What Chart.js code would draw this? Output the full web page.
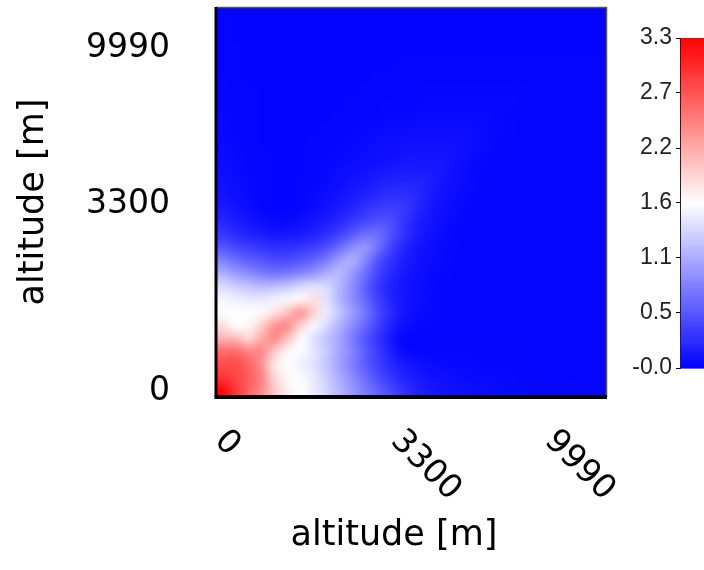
<!DOCTYPE html>
<html>
<head>
<meta charset="utf-8">
<script src="https://cdn.jsdelivr.net/npm/chart.js@4.4.1/dist/chart.umd.min.js"></script>
<style>
  html, body { margin: 0; padding: 0; background: #fff; overflow: hidden; }
  #wrap { position: relative; width: 704px; height: 570px; }
  #cov-chart { position: absolute; left: 0; top: 0; }
  #cov-scale { position: absolute; left: 600px; top: 0; }
</style>
</head>
<body>
<div id="wrap">
  <canvas id="cov-chart" width="704" height="570"></canvas>
  <canvas id="cov-scale" width="120" height="400"></canvas>
</div>
<script>
/* ============================================================
   Altitude x altitude matrix (heatmap + colour scale)
   ============================================================ */

// one row per level, lowest altitude first
const covRows = [
  [3.25,2.95,2.65,2.40,2.00,1.75,1.65,1.52,1.36,1.16,0.97,0.78,0.61,0.45,0.30,0.21,0.15,0.11,0.09,0.08,0.07,0.06,0.05,0.05,0.04,0.04,0.04,0.04,0.03,0.03],
  [2.95,2.85,2.70,2.45,1.90,1.70,1.62,1.50,1.32,1.10,0.90,0.68,0.48,0.32,0.22,0.15,0.11,0.09,0.07,0.06,0.06,0.05,0.05,0.04,0.04,0.04,0.04,0.03,0.03,0.03],
  [2.80,2.80,2.65,2.35,1.80,1.65,1.55,1.45,1.26,1.03,0.80,0.58,0.40,0.25,0.15,0.10,0.07,0.06,0.05,0.05,0.04,0.04,0.04,0.04,0.04,0.03,0.03,0.03,0.03,0.03],
  [2.60,2.60,2.45,2.40,2.00,1.70,1.62,1.48,1.29,1.06,0.84,0.58,0.36,0.18,0.06,0.04,0.04,0.04,0.04,0.04,0.04,0.04,0.04,0.04,0.03,0.03,0.03,0.03,0.03,0.03],
  [2.15,2.10,1.90,2.20,2.40,2.05,1.65,1.45,1.25,1.05,0.78,0.52,0.32,0.13,0.03,0.03,0.04,0.04,0.04,0.04,0.04,0.04,0.04,0.04,0.03,0.03,0.03,0.03,0.03,0.03],
  [1.85,1.65,1.70,1.95,2.35,2.40,1.95,1.60,1.40,1.13,0.90,0.65,0.40,0.20,0.08,0.05,0.04,0.03,0.03,0.03,0.03,0.03,0.03,0.03,0.03,0.03,0.03,0.03,0.03,0.03],
  [1.63,1.63,1.65,1.68,1.82,2.05,2.35,1.95,1.52,1.26,1.00,0.74,0.45,0.25,0.12,0.07,0.05,0.04,0.03,0.03,0.03,0.03,0.03,0.03,0.03,0.03,0.03,0.03,0.03,0.03],
  [1.58,1.55,1.50,1.50,1.55,1.60,1.70,1.85,1.45,1.16,0.90,0.65,0.39,0.22,0.13,0.08,0.06,0.04,0.03,0.03,0.03,0.03,0.03,0.03,0.03,0.03,0.03,0.03,0.03,0.03],
  [1.42,1.32,1.26,1.20,1.23,1.29,1.39,1.45,1.40,1.16,0.90,0.60,0.35,0.20,0.12,0.08,0.05,0.04,0.03,0.03,0.03,0.03,0.03,0.03,0.03,0.03,0.03,0.03,0.03,0.03],
  [1.13,1.00,0.90,0.80,0.74,0.78,0.87,0.97,1.13,1.20,0.97,0.70,0.42,0.25,0.15,0.09,0.06,0.04,0.03,0.03,0.03,0.03,0.03,0.03,0.03,0.03,0.03,0.03,0.03,0.03],
  [0.84,0.71,0.61,0.55,0.48,0.48,0.55,0.65,0.80,1.03,1.13,0.84,0.50,0.30,0.18,0.11,0.07,0.05,0.04,0.03,0.03,0.03,0.03,0.03,0.03,0.03,0.03,0.03,0.03,0.03],
  [0.55,0.45,0.39,0.34,0.30,0.30,0.34,0.40,0.50,0.70,0.90,0.97,0.70,0.40,0.22,0.13,0.08,0.05,0.04,0.03,0.03,0.03,0.03,0.03,0.03,0.03,0.03,0.03,0.03,0.03],
  [0.36,0.28,0.22,0.18,0.14,0.14,0.17,0.22,0.30,0.42,0.58,0.72,0.70,0.50,0.30,0.17,0.10,0.06,0.04,0.03,0.03,0.03,0.03,0.03,0.03,0.03,0.03,0.03,0.03,0.03],
  [0.25,0.18,0.13,0.09,0.06,0.06,0.09,0.13,0.18,0.26,0.36,0.46,0.52,0.48,0.32,0.19,0.12,0.07,0.05,0.03,0.03,0.03,0.03,0.03,0.03,0.03,0.03,0.03,0.03,0.03],
  [0.17,0.12,0.08,0.04,0.02,0.02,0.04,0.07,0.11,0.17,0.24,0.32,0.38,0.40,0.36,0.24,0.14,0.09,0.06,0.04,0.03,0.03,0.03,0.03,0.03,0.03,0.03,0.03,0.03,0.03],
  [0.13,0.09,0.06,0.03,0.02,0.02,0.03,0.05,0.08,0.12,0.17,0.22,0.27,0.30,0.30,0.25,0.16,0.10,0.07,0.05,0.03,0.03,0.03,0.03,0.03,0.03,0.03,0.03,0.03,0.03],
  [0.10,0.07,0.05,0.03,0.02,0.02,0.03,0.04,0.06,0.09,0.12,0.15,0.19,0.22,0.23,0.22,0.18,0.12,0.08,0.05,0.04,0.03,0.03,0.03,0.03,0.03,0.03,0.03,0.03,0.03],
  [0.08,0.06,0.04,0.03,0.02,0.02,0.02,0.03,0.05,0.07,0.09,0.11,0.13,0.15,0.17,0.17,0.16,0.13,0.09,0.06,0.04,0.03,0.03,0.03,0.03,0.03,0.03,0.03,0.03,0.03],
  [0.07,0.05,0.04,0.03,0.02,0.02,0.02,0.03,0.04,0.05,0.06,0.08,0.09,0.11,0.12,0.13,0.13,0.12,0.10,0.07,0.05,0.04,0.03,0.03,0.03,0.03,0.03,0.03,0.03,0.03],
  [0.06,0.05,0.03,0.02,0.02,0.02,0.02,0.03,0.03,0.04,0.05,0.06,0.08,0.09,0.10,0.11,0.11,0.11,0.10,0.08,0.06,0.04,0.03,0.03,0.03,0.03,0.03,0.03,0.03,0.03],
  [0.05,0.04,0.03,0.02,0.02,0.02,0.02,0.02,0.03,0.03,0.04,0.05,0.06,0.07,0.07,0.08,0.08,0.08,0.08,0.08,0.06,0.05,0.04,0.03,0.03,0.03,0.03,0.03,0.03,0.03],
  [0.05,0.04,0.03,0.02,0.02,0.02,0.02,0.02,0.02,0.03,0.03,0.04,0.04,0.05,0.05,0.06,0.06,0.06,0.06,0.06,0.06,0.05,0.04,0.03,0.03,0.03,0.03,0.03,0.03,0.03],
  [0.04,0.04,0.03,0.02,0.02,0.02,0.02,0.02,0.02,0.02,0.03,0.03,0.03,0.04,0.04,0.04,0.05,0.05,0.05,0.05,0.05,0.05,0.05,0.04,0.03,0.03,0.03,0.03,0.03,0.03],
  [0.04,0.03,0.03,0.02,0.02,0.02,0.02,0.02,0.02,0.02,0.02,0.03,0.03,0.03,0.03,0.04,0.04,0.04,0.04,0.04,0.04,0.04,0.04,0.04,0.03,0.03,0.03,0.03,0.03,0.03],
  [0.04,0.03,0.02,0.02,0.02,0.02,0.02,0.02,0.02,0.02,0.02,0.02,0.03,0.03,0.03,0.03,0.03,0.03,0.03,0.03,0.03,0.03,0.03,0.03,0.03,0.03,0.03,0.03,0.03,0.03],
  [0.03,0.03,0.02,0.02,0.02,0.02,0.02,0.02,0.02,0.02,0.02,0.02,0.02,0.02,0.03,0.03,0.03,0.03,0.03,0.03,0.03,0.03,0.03,0.03,0.03,0.03,0.03,0.03,0.03,0.03],
  [0.03,0.03,0.02,0.02,0.02,0.02,0.02,0.02,0.02,0.02,0.02,0.02,0.02,0.02,0.02,0.02,0.02,0.02,0.02,0.02,0.02,0.02,0.02,0.02,0.02,0.02,0.02,0.02,0.02,0.02],
  [0.03,0.02,0.02,0.02,0.02,0.02,0.02,0.02,0.02,0.02,0.02,0.02,0.02,0.02,0.02,0.02,0.02,0.02,0.02,0.02,0.02,0.02,0.02,0.02,0.02,0.02,0.02,0.02,0.02,0.02],
  [0.03,0.02,0.02,0.02,0.02,0.02,0.02,0.02,0.02,0.02,0.02,0.02,0.02,0.02,0.02,0.02,0.02,0.02,0.02,0.02,0.02,0.02,0.02,0.02,0.02,0.02,0.02,0.02,0.02,0.02],
  [0.03,0.02,0.02,0.02,0.02,0.02,0.02,0.02,0.02,0.02,0.02,0.02,0.02,0.02,0.02,0.02,0.02,0.02,0.02,0.02,0.02,0.02,0.02,0.02,0.02,0.02,0.02,0.02,0.02,0.02],
];

// tick labels and where they sit, in level units
const tickLabels = ['0', '3300', '9990'];
const xTickPos = [0.28, 13.8, 25.6];
const yTickPos = [0.4, 14.8, 26.8];

// colour scale
const cbTickVals = [-0.001, 0.548, 1.097, 1.645, 2.193, 2.742, 3.29];
const cbTickLabels = ['-0.0', '0.5', '1.1', '1.6', '2.2', '2.7', '3.3'];

const AXIS_TITLE = 'altitude [m]';
const FONT = '"DejaVu Sans", sans-serif';

const nLevels = covRows.length;
const cbMin = cbTickVals[0];
const cbMax = cbTickVals[cbTickVals.length - 1];

/* ── blue / white / red ── */
function colorFor(v) {
  const mid = (cbMin + cbMax) / 2;
  const clamp = t => Math.max(0, Math.min(1, t));
  if (v <= mid) {
    const c = Math.round(255 * clamp((v - cbMin) / (mid - cbMin)));
    return [c, c, 255];
  }
  const c = Math.round(255 * (1 - clamp((v - mid) / (cbMax - mid))));
  return [255, c, c];
}
const rgb = c => `rgb(${c[0]},${c[1]},${c[2]})`;

/* ── heatmap: one pixel per cell, smoothed up to the plot area ── */
const heatmapPlugin = {
  id: 'heatmap',
  beforeDraw(chart) {
    const { ctx, scales: { x, y } } = chart;
    const cells = chart.data.datasets[0].data;
    const off = document.createElement('canvas');
    off.width = nLevels;
    off.height = nLevels;
    const octx = off.getContext('2d');
    const img = octx.createImageData(nLevels, nLevels);
    cells.forEach(p => {
      const i = Math.floor(p.x), j = Math.floor(p.y);
      const k = ((nLevels - 1 - j) * nLevels + i) * 4;
      const c = colorFor(p.v);
      img.data[k] = c[0];
      img.data[k + 1] = c[1];
      img.data[k + 2] = c[2];
      img.data[k + 3] = 255;
    });
    octx.putImageData(img, 0, 0);

    const left = x.getPixelForValue(0), right = x.getPixelForValue(nLevels);
    const top = y.getPixelForValue(nLevels), bottom = y.getPixelForValue(0);
    ctx.save();
    ctx.imageSmoothingEnabled = true;
    ctx.imageSmoothingQuality = 'high';
    ctx.drawImage(off, left, top, right - left, bottom - top);
    ctx.restore();
  },
  afterDraw(chart) {
    const { ctx, chartArea: a, scales: { x } } = chart;
    ctx.save();
    // frame: thin top/right, heavy left/bottom
    ctx.strokeStyle = '#555';
    ctx.lineWidth = 1.5;
    ctx.beginPath();
    ctx.moveTo(a.left, a.top + 0.5);
    ctx.lineTo(a.right - 0.5, a.top + 0.5);
    ctx.lineTo(a.right - 0.5, a.bottom);
    ctx.stroke();
    ctx.strokeStyle = '#000';
    ctx.lineWidth = 3;
    ctx.beginPath();
    ctx.moveTo(a.left, a.top);
    ctx.lineTo(a.left, a.bottom);
    ctx.stroke();
    ctx.lineWidth = 4;
    ctx.beginPath();
    ctx.moveTo(a.left - 1.5, a.bottom);
    ctx.lineTo(a.right, a.bottom);
    ctx.stroke();

    // x tick labels, turned clockwise
    ctx.fillStyle = '#000';
    ctx.font = `33px ${FONT}`;
    ctx.textAlign = 'left';
    ctx.textBaseline = 'middle';
    tickLabels.forEach((label, k) => {
      ctx.save();
      ctx.translate(x.getPixelForValue(xTickPos[k]), a.bottom + 39);
      ctx.rotate(Math.PI / 4);
      ctx.fillText(label, 0, 0);
      ctx.restore();
    });

    // x title
    ctx.font = `35px ${FONT}`;
    ctx.textAlign = 'center';
    ctx.fillText(AXIS_TITLE, a.left + 178, a.bottom + 139);
    ctx.restore();
  }
};

/* ── colour bar strip ── */
const colorBarPlugin = {
  id: 'colorBar',
  beforeDraw(chart) {
    const { ctx, chartArea: a, scales: { y } } = chart;
    const steps = 160;
    for (let k = 0; k < steps; k++) {
      const v0 = cbMin + (cbMax - cbMin) * k / steps;
      const v1 = cbMin + (cbMax - cbMin) * (k + 1) / steps;
      const top = y.getPixelForValue(v1);
      const bottom = y.getPixelForValue(v0);
      ctx.fillStyle = rgb(colorFor((v0 + v1) / 2));
      ctx.fillRect(a.left, top, a.right - a.left, bottom - top + 0.6);
    }
  }
};

// keep the axis from pushing the plot area around
function fixAxisBox(width) {
  return s => {
    s.width = width;
    s.paddingTop = 0;
    s.paddingBottom = 0;
  };
}

function initMatrix() {
  const cells = covRows.flatMap((row, j) => row.map((v, i) => ({ x: i + 0.5, y: j + 0.5, v })));
  new Chart(document.getElementById('cov-chart'), {
    type: 'scatter',
    data: { datasets: [{ data: cells, pointRadius: 0, showLine: false }] },
    options: {
      responsive: false,
      animation: false,
      layout: { padding: { top: 7, right: 97, bottom: 173, left: 0 } },
      plugins: { legend: { display: false }, tooltip: { enabled: false } },
      scales: {
        x: { type: 'linear', min: 0, max: nLevels, display: false },
        y: {
          type: 'linear', min: 0, max: nLevels,
          afterFit: fixAxisBox(216),
          afterBuildTicks: s => { s.ticks = yTickPos.map(v => ({ value: v })); },
          grid: { display: false },
          border: { display: false },
          ticks: {
            autoSkip: false,
            padding: 38,
            color: '#000',
            font: { family: FONT, size: 33 },
            callback: (v, i) => tickLabels[i],
          },
          title: {
            display: true,
            text: AXIS_TITLE,
            color: '#000',
            font: { family: FONT, size: 35 },
            padding: { top: 13, bottom: 0 },
          },
        },
      },
    },
    plugins: [heatmapPlugin],
  });
}

function initColorBar() {
  new Chart(document.getElementById('cov-scale'), {
    type: 'scatter',
    data: { datasets: [{ data: [] }] },
    options: {
      responsive: false,
      animation: false,
      layout: { padding: { top: 38, right: 0, bottom: 32, left: 0 } },
      plugins: { legend: { display: false }, tooltip: { enabled: false } },
      scales: {
        x: { display: false },
        y: {
          type: 'linear', min: cbMin, max: cbMax,
          afterFit: fixAxisBox(80),
          afterBuildTicks: s => { s.ticks = cbTickVals.map(v => ({ value: v })); },
          grid: { drawOnChartArea: false, drawTicks: true, tickLength: 4, color: '#000' },
          border: { display: true, color: '#222', width: 1 },
          ticks: {
            autoSkip: false,
            padding: 4,
            color: '#222',
            font: { family: '"Liberation Sans", Arial, sans-serif', size: 23 },
            callback: (v, i) => cbTickLabels[i],
          },
        },
      },
    },
    plugins: [colorBarPlugin],
  });
}

initMatrix();
initColorBar();
</script>
</body>
</html>
